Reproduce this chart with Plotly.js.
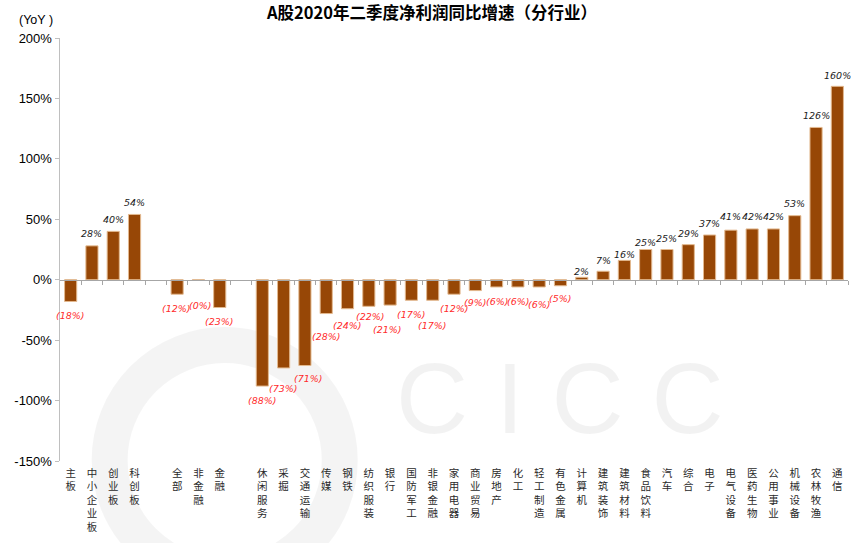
<!DOCTYPE html>
<html>
<head>
<meta charset="utf-8">
<script src="https://cdn.plot.ly/plotly-3.0.1.min.js"></script>
<style>html,body{margin:0;padding:0;background:#fff;}#chart{width:858px;height:543px;}</style>
</head>
<body>
<div id="chart"></div>
<script>
// Categories ('' = spacer slot)
const categories = ['主板','中小企业板','创业板','科创板','',
  '全部','非金融','金融','',
  '休闲服务','采掘','交通运输','传媒','钢铁','纺织服装','银行','国防军工','非银金融','家用电器',
  '商业贸易','房地产','化工','轻工制造','有色金属','计算机','建筑装饰','建筑材料','食品饮料','汽车',
  '综合','电子','电气设备','医药生物','公用事业','机械设备','农林牧渔','通信'];
// YoY growth of net profit, %
const values = [-18, 28, 40, 54, null,
  -12, -0.4, -23, null,
  -88, -73, -71, -28, -24, -22, -21, -17, -17, -12,
  -9, -6, -6, -6, -5, 2, 7, 16, 25, 25,
  29, 37, 41, 42, 42, 53, 126, 160];
const yTickVals = [-150, -100, -50, 0, 50, 100, 150, 200];
const yTickText = ['-150%', '-100%', '-50%', '0%', '50%', '100%', '150%', '200%'];

// label placement (style only): pixel distance of each value label from its bar end
const labelGap = [14, 12, 12, 12, 0,
  14, 25, 14, 0,
  14, 21, 13, 23, 17, 10, 24, 14, 25, 14,
  12, 15, 15, 18, 13, 6, 11, 6, 7, 11,
  11, 12, 14, 12, 12, 12, 12, 11];
const labelDx = {5: -1, 6: 2, 11: 4, 14: 2, 15: -3};

const idx = categories.map((c, i) => i);
const vertLabels = categories.map(c => c.split('').join('<br>'));
const barColor = '#974706';

const annotations = [];
values.forEach((v, i) => {
  if (v === null) return;
  const r = Math.round(v);
  const neg = v < 0;
  annotations.push({
    x: i, y: v, xref: 'x', yref: 'y',
    text: neg ? '(' + Math.abs(r) + '%)' : r + '%',
    showarrow: false,
    yshift: neg ? -labelGap[i] : labelGap[i],
    xshift: labelDx[i] || 0,
    font: {family: 'DejaVu Sans, sans-serif', size: 9.5, color: neg ? '#ff2b2b' : '#1a1a1a', style: 'italic'}
  });
});
annotations.push({
  xref: 'paper', yref: 'paper', x: -0.0546, y: 1.0426, xanchor: 'left', yanchor: 'middle',
  text: '(YoY )', showarrow: false,
  font: {family: 'Liberation Sans, Arial, sans-serif', size: 12.5, color: '#000'}
});
// watermark
annotations.push({
  xref: 'paper', yref: 'paper', x: 0.635, y: 0.15, xanchor: 'center', yanchor: 'middle',
  text: 'C I C C', showarrow: false,
  font: {family: 'Liberation Sans, Arial, sans-serif', size: 100, color: 'rgba(0,0,0,0.05)'}
});

const bar = {
  type: 'bar', x: idx, y: values,
  marker: {color: barColor, line: {color: '#e3b98f', width: 1}},
  width: 0.57, hoverinfo: 'skip'
};

const boundaries = [];
for (let i = 0; i < categories.length; i++) boundaries.push(i + 0.5);

const layout = {
  width: 858, height: 543,
  margin: {l: 60, r: 10, t: 38, b: 82},
  paper_bgcolor: '#fff', plot_bgcolor: 'rgba(0,0,0,0)',
  showlegend: false,
  title: {text: '<b>A股2020年二季度净利润同比增速（分行业）</b>', x: 0.5035, xanchor: 'center', y: 0.975, yanchor: 'middle',
    font: {family: 'Noto Sans CJK SC, sans-serif', size: 16.5, color: '#000'}},
  xaxis: {
    range: [-0.5, categories.length - 0.5], tickmode: 'array', tickvals: idx, ticktext: vertLabels,
    showline: false, ticks: '', showgrid: false, zeroline: false, tickangle: 0, ticklabelstandoff: 4,
    tickfont: {family: 'Noto Sans CJK SC, sans-serif', size: 10.5, color: '#2a2a2a'}
  },
  xaxis2: {
    overlaying: 'x', anchor: 'free', position: 150 / 350, side: 'bottom',
    range: [-0.5, categories.length - 0.5], tickmode: 'array', tickvals: boundaries,
    showticklabels: false, showline: true, linecolor: '#a6a6a6', linewidth: 1.5,
    ticks: 'outside', ticklen: 4, tickcolor: '#a6a6a6', showgrid: false, zeroline: false
  },
  yaxis: {
    range: [-150, 200], tickmode: 'array', tickvals: yTickVals, ticktext: yTickText,
    showline: true, linecolor: '#bfbfbf', linewidth: 1.5, ticks: 'outside', ticklen: 4, tickcolor: '#bfbfbf',
    showgrid: false, zeroline: false,
    tickfont: {family: 'Liberation Sans, Arial, sans-serif', size: 13, color: '#000'}
  },
  shapes: [
    {type: 'circle', xref: 'paper', yref: 'paper', x0: 0.063, x1: 0.355, y0: -0.27, y1: 0.274,
     line: {color: 'rgba(0,0,0,0.045)', width: 36}, fillcolor: 'rgba(0,0,0,0)', layer: 'below'}
  ],
  annotations: annotations
};

Plotly.newPlot('chart', [bar, {type: 'scatter', x: [0], y: [null], xaxis: 'x2', hoverinfo: 'skip'}], layout, {displayModeBar: false, staticPlot: true});
</script>
</body>
</html>
